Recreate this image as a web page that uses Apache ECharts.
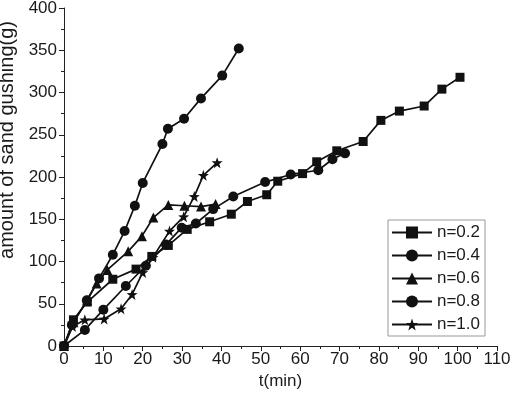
<!doctype html>
<html>
<head>
    <meta charset="UTF-8">
    <title>sand gushing</title>
    <script src="https://cdn.jsdelivr.net/npm/echarts@6/dist/echarts.min.js"></script>
    <style>
        html, body { margin: 0; padding: 0; background: #fff; }
        #main { width: 512px; height: 394px; }
    </style>
</head>
<body>
<div id="main"></div>
<script>
    // 各组数据 [t(min), g]
    var n02 = [[0,0],[2.4,31],[5.9,52],[12.4,79],[18.3,91],[22.3,106],[26.5,119],[31.3,138],[37,147],[42.5,156],[46.6,171],[51.5,179],[54.3,195],[60.6,204],[64.2,218],[69.3,231],[76,242],[80.5,267],[85.2,278],[91.5,284],[96,304],[100.6,318]];
    var n04 = [[0,0],[5.3,19],[10,43],[15.7,71],[20.8,95],[25.9,120],[29.9,140],[33.5,145],[37.9,162],[43,177],[51.1,194],[57.6,203],[64.6,208],[68.2,221],[71.4,228]];
    var n06 = [[0,0],[2.4,28],[5.9,54],[8.3,74],[11,90],[16.3,112],[19.8,130],[22.7,152],[26.5,167],[30.6,166],[34.8,165],[38.5,168]];
    var n08 = [[0,0],[2,25],[5.8,54],[8.9,80],[12.4,108],[15.4,136],[18,166],[20,193],[25,239],[26.4,257],[30.5,269],[34.8,293],[40.2,320],[44.4,352]];
    var n10 = [[0,0],[2.2,23],[5.3,31],[10.2,32],[14.5,44],[17.3,61],[20,87],[22.6,105],[26.8,136],[30.4,153],[33.1,177],[35.4,202],[38.9,217]];
    var names = ['n=0.2','n=0.4','n=0.6','n=0.8','n=1.0'];

    var star = 'path://M0,-10L2.35,-3.24L9.51,-3.09L3.8,1.24L5.88,8.09L0,4L-5.88,8.09L-3.8,1.24L-9.51,-3.09L-2.35,-3.24Z';
    var symbols = ['rect','circle','triangle','circle',star];
    var sizes = [9,10,10,10,11];
    var datas = [n02,n04,n06,n08,n10];

    var txt = '#1a1a1a';
    var font = 'Liberation Sans, Arial, sans-serif';

    var series = [];
    for (var i = 0; i < datas.length; i++) {
        series.push({
            name: names[i],
            type: 'line',
            data: datas[i],
            symbol: symbols[i],
            symbolSize: sizes[i],
            showAllSymbol: true,
            lineStyle: { color: '#111', width: 1.7 },
            itemStyle: { color: '#111', borderWidth: 0 },
            animation: false
        });
    }

    var myChart = echarts.init(document.getElementById('main'));
    var option = {
        backgroundColor: '#fff',
        grid: { left: 64, right: 15, top: 8, bottom: 48, containLabel: false, outerBoundsMode: 'none' },
        legend: {
            orient: 'vertical',
            right: 27,
            top: 220,
            itemWidth: 40,
            itemHeight: 15,
            itemGap: 6,
            itemStyle: { borderWidth: 0 },
            padding: [4, 5, 3, 3],
            borderColor: '#999',
            borderWidth: 1,
            textStyle: { color: txt, fontSize: 17, fontFamily: font },
            data: names
        },
        xAxis: {
            type: 'value',
            min: 0, max: 110, interval: 10,
            name: 't(min)',
            nameLocation: 'middle',
            nameGap: 21,
            nameTextStyle: { color: txt, fontSize: 17, fontFamily: font },
            axisLine: { lineStyle: { color: '#222', width: 1 } },
            axisTick: { show: true, inside: false, length: 5, lineStyle: { color: '#222' } },
            minorTick: { show: true, splitNumber: 2, length: 3, lineStyle: { color: '#222' } },
            splitLine: { show: false },
            axisLabel: { color: txt, fontSize: 17, fontFamily: font, margin: 5 }
        },
        yAxis: {
            type: 'value',
            min: 0, max: 400, interval: 50,
            name: 'amount of sand gushing(g)',
            nameLocation: 'middle',
            nameGap: 38,
            nameTextStyle: { color: txt, fontSize: 20, fontFamily: font, padding: [0, 0, 0, 74] },
            axisLine: { show: true, lineStyle: { color: '#222', width: 1 } },
            axisTick: { show: true, inside: false, length: 5, lineStyle: { color: '#222' } },
            minorTick: { show: true, splitNumber: 2, length: 3, lineStyle: { color: '#222' } },
            splitLine: { show: false },
            axisLabel: { color: txt, fontSize: 17, fontFamily: font, margin: 7 }
        },
        series: series
    };
    myChart.setOption(option, true);
</script>
</body>
</html>
